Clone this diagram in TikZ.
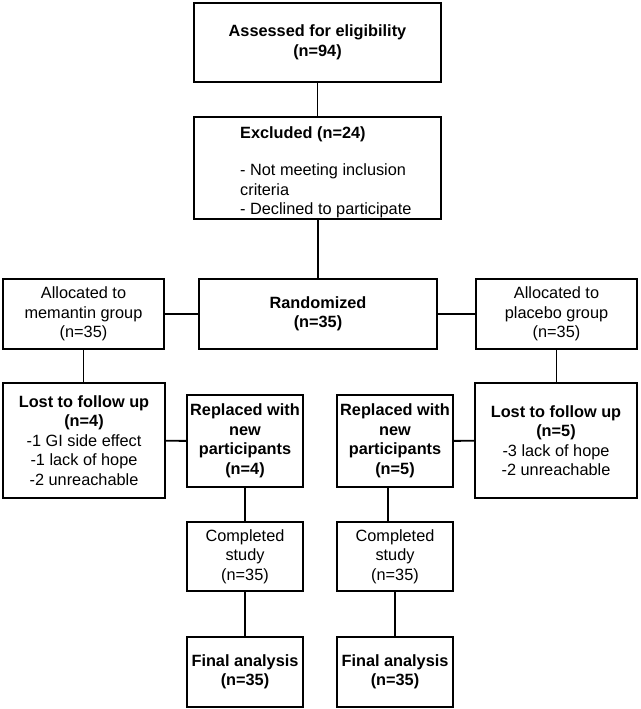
\documentclass[tikz,border=0pt]{standalone}
\usepackage{fontspec}
\setmainfont{Liberation Sans}
\begin{document}
\begin{tikzpicture}[x=1pt,y=-1pt,
  box/.style={draw, line width=1.9pt, inner sep=0pt, align=center,
    font=\fontsize{16.3}{19.5}\selectfont},
  boxtext/.style={inner sep=0pt, align=left,
    font=\fontsize{16.3}{19.5}\selectfont},
  link/.style={line width=1.9pt}]
\useasboundingbox (0,0) rectangle (640,709);

% screening
\node[box, minimum width=247pt, minimum height=79pt] (assess) at (317.5,42.5)
  {\textbf{Assessed for eligibility}\\\textbf{(n=94)}};
\node[box, minimum width=247pt, minimum height=102pt] (excl) at (317.5,168) {};
\node[boxtext, anchor=north west] (excltext) at (240,126)
  {\textbf{Excluded (n=24)}\\[18pt]- Not meeting inclusion\\criteria\\- Declined to participate};

% allocation row
\node[box, minimum width=161pt, minimum height=70pt] (allocm) at (83.5,314)
  {Allocated to\\memantin group\\(n=35)};
\node[box, minimum width=238pt, minimum height=70pt] (rand) at (318,314)
  {\textbf{Randomized}\\\textbf{(n=35)}};
\node[box, minimum width=161pt, minimum height=70pt] (allocp) at (556.5,314)
  {Allocated to\\placebo group\\(n=35)};

% follow-up row
\node[box, minimum width=162pt, minimum height=115pt] (lostm) at (84,440.5)
  {\textbf{Lost to follow up}\\\textbf{(n=4)}\\-1 GI side effect\\-1 lack of hope\\-2 unreachable};
\node[box, minimum width=116pt, minimum height=92pt] (replm) at (245,441)
  {\textbf{Replaced with}\\\textbf{new}\\\textbf{participants}\\\textbf{(n=4)}};
\node[box, minimum width=116pt, minimum height=92pt] (replp) at (395,441)
  {\textbf{Replaced with}\\\textbf{new}\\\textbf{participants}\\\textbf{(n=5)}};
\node[box, minimum width=162pt, minimum height=115pt] (lostp) at (556,440.5)
  {\textbf{Lost to follow up}\\\textbf{(n=5)}\\-3 lack of hope\\-2 unreachable};

% completion and analysis
\node[box, minimum width=116pt, minimum height=69pt] (compm) at (245,556.5)
  {Completed\\study\\(n=35)};
\node[box, minimum width=116pt, minimum height=69pt] (compp) at (395,556.5)
  {Completed\\study\\(n=35)};
\node[box, minimum width=116pt, minimum height=70pt] (finm) at (245,672)
  {\textbf{Final analysis}\\\textbf{(n=35)}};
\node[box, minimum width=116pt, minimum height=70pt] (finp) at (395,672)
  {\textbf{Final analysis}\\\textbf{(n=35)}};

% the placebo branch link runs a little left of the box centres
\coordinate (plink) at (388,0);

% connectors
\draw[link] (assess) -- (excl);
\draw[link] (excl.south -| rand.north) -- (rand.north);
\draw[link] (allocm) -- (rand);
\draw[link] (rand) -- (allocp);
\draw[link] (allocm.south) -- (lostm.north -| allocm.south);
\draw[link] (allocp.south) -- (lostp.north -| allocp.south);
\draw[link] (lostm) -- (replm);
\draw[link] (replp) -- (lostp);
\draw[link] (replm) -- (compm);
\draw[link] (compm) -- (finm);
\draw[link] (replp.south -| plink) -- (compp.north -| plink);
\draw[link] (compp) -- (finp);
\end{tikzpicture}
\end{document}
